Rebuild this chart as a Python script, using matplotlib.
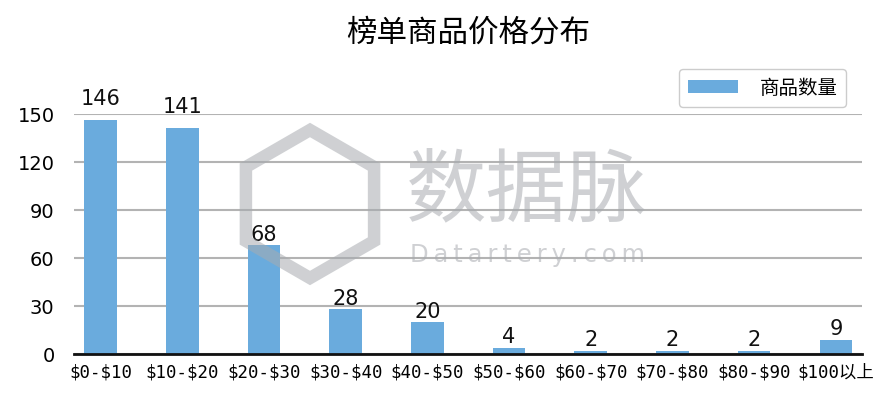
import matplotlib.pyplot as plt
from matplotlib.patches import RegularPolygon

# price ranges and item counts
categories = ['$0-$10', '$10-$20', '$20-$30', '$30-$40', '$40-$50',
              '$50-$60', '$60-$70', '$70-$80', '$80-$90', '$100以上']
counts = [146, 141, 68, 28, 20, 4, 2, 2, 2, 9]
yticks = [0, 30, 60, 90, 120, 150]

cjk = ['Noto Sans CJK SC', 'DejaVu Sans']
plt.rcParams['font.family'] = ['DejaVu Sans', 'Noto Sans CJK SC']
plt.rcParams['text.parse_math'] = False   # keep the $ signs literal

fig = plt.figure(figsize=(8.94, 4.06), dpi=100)
ax = fig.add_axes([74 / 894, 1 - 355 / 406, 788 / 894, 240 / 406])

x = range(len(categories))
bars = ax.bar(x, counts, width=0.40, color='#6aabdd', label='商品数量', zorder=2)
for xi, v in zip(x, counts):
    # the two tallest labels sit above the top grid line
    off = 9 if v > 140 else 1
    ax.annotate(str(v), (xi, v), xytext=(0, off), textcoords='offset points',
                ha='center', va='bottom', fontsize=15, color='#111111',
                annotation_clip=False, zorder=3)

ax.set_xlim(-0.325, 9.32)
ax.set_ylim(0, 150)
ax.set_yticks(yticks)
ax.set_xticks(list(x))
ax.set_xticklabels(categories, family=['DejaVu Sans Mono', 'Noto Sans CJK SC'],
                   fontsize=12.5)
ax.tick_params(axis='y', labelsize=14, length=0, pad=14)
ax.tick_params(axis='x', length=0, pad=6)
ax.yaxis.grid(True, color='#b3b3b3', linewidth=1.5, zorder=0)
ax.set_axisbelow(True)
for s in ['top', 'right', 'left']:
    ax.spines[s].set_visible(False)
ax.spines['bottom'].set_linewidth(2)
ax.spines['bottom'].set_color('#111111')
ax.spines['bottom'].set_zorder(4)

fig.text(468 / 894, 1 - 33 / 406, '榜单商品价格分布', ha='center', va='center',
         fontsize=22, family=cjk)

fig.legend(handles=[bars], labels=['商品数量'], loc='upper right',
           bbox_to_anchor=(856 / 894, 1 - 60 / 406), prop={'family': cjk, 'size': 14},
           handlelength=2.6, handleheight=0.7, handletextpad=1.1, fancybox=True,
           edgecolor='#cccccc', framealpha=1, borderpad=0.45)

# watermark
fig.patches.append(RegularPolygon((310, 406 - 205), numVertices=6, radius=74,
                                  orientation=0, transform=None, fill=False,
                                  edgecolor='#a8abb0', linewidth=9, alpha=0.55,
                                  zorder=5, figure=fig))
fig.text(527 / 894, 1 - 192 / 406, '数据脉', ha='center', va='center',
         fontsize=58, family=cjk, color='#a8abb0', alpha=0.55, zorder=5)
fig.text(527 / 894, 1 - 255 / 406, 'D\u2009a\u2009t\u2009a\u2009r\u2009t\u2009e\u2009r\u2009y\u2009.\u2009c\u2009o\u2009m',
         ha='center', va='center', fontsize=17.5, color='#a8abb0', alpha=0.55,
         zorder=5)

fig.savefig('out.png', dpi=100)
